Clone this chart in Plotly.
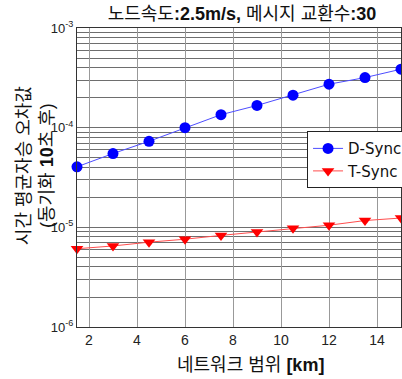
import plotly.graph_objects as go

x_km = [1.5, 3, 4.5, 6, 7.5, 9, 10.5, 12, 13.5, 15]
d_sync = [4.05e-5, 5.5e-5, 7.3e-5, 1.0e-4, 1.35e-4, 1.67e-4, 2.12e-4, 2.73e-4, 3.18e-4, 3.86e-4]
t_sync = [6.1e-6, 6.5e-6, 7.1e-6, 7.6e-6, 8.3e-6, 9.0e-6, 9.8e-6, 1.05e-5, 1.17e-5, 1.24e-5]
y_tickvals = [1e-6, 1e-5, 1e-4, 1e-3]
y_ticktext = ["10<sup>-6</sup>", "10<sup>-5</sup>", "10<sup>-4</sup>", "10<sup>-3</sup>"]
x_tickvals = [2, 4, 6, 8, 10, 12, 14]
title_text = "노드속도<b>:2.5m/s,</b> 메시지 교환수<b>:30</b>"
x_title = "네트워크 범위 <b>[km]</b>"
y_title = "시간 평균자승 오차값<br>(동기화 <b>10</b>초 후)"

FONT = "Liberation Sans, Arial, Noto Sans CJK KR, sans-serif"

fig = go.Figure()
fig.add_trace(go.Scatter(x=x_km, y=d_sync, mode="lines+markers", name="D-Sync",
                         cliponaxis=False,
                         line=dict(color="#4d4dff", width=1),
                         marker=dict(symbol="circle", size=11, color="#0000ff")))
fig.add_trace(go.Scatter(x=x_km, y=t_sync, mode="lines+markers", name="T-Sync",
                         cliponaxis=False,
                         line=dict(color="#ff4d4d", width=1),
                         marker=dict(symbol="triangle-down", size=11, color="#ff0000")))

grid = "#6e6e6e"
fig.update_layout(
    width=402, height=379,
    margin=dict(l=77, r=1, t=28, b=52, autoexpand=False),
    paper_bgcolor="white", plot_bgcolor="white",
    font=dict(family=FONT, color="#222"),
    title=dict(text=title_text, x=0.602, xanchor="center", y=0.963, yanchor="middle",
               font=dict(size=18, color="#111")),
    showlegend=True,
    legend=dict(x=0.71, y=0.655, xanchor="left", yanchor="top",
                bgcolor="white", bordercolor="#222", borderwidth=1,
                font=dict(size=15, color="#111", family="DejaVu Sans, sans-serif"),
                tracegroupgap=0, itemwidth=30),
    xaxis=dict(range=[1.5, 15], tickvals=x_tickvals, showgrid=True, automargin=False,
               gridcolor="#999", gridwidth=1, zeroline=False,
               showline=True, linecolor="#333", linewidth=1, mirror=True,
               ticks="", tickfont=dict(size=14, color="#222")),
    yaxis=dict(type="log", range=[-6, -3], tickvals=y_tickvals, ticktext=y_ticktext,
               automargin=False,
               showgrid=True, gridcolor=grid, gridwidth=1, zeroline=False,
               showline=True, linecolor="#333", linewidth=1, mirror=True,
               ticks="", tickfont=dict(size=13, color="#222"),
               minor=dict(dtick="D1", showgrid=True, gridcolor=grid, gridwidth=1, ticks="")),
    annotations=[
        dict(text=x_title, xref="paper", yref="paper", x=0.534, y=0, yshift=-38,
             xanchor="center", yanchor="middle", showarrow=False,
             font=dict(size=18, color="#111")),
        dict(text=y_title, xref="paper", yref="paper", x=0, y=0.538, xshift=-42,
             xanchor="center", yanchor="middle", showarrow=False, textangle=-90,
             font=dict(size=18, color="#111")),
    ],
)

fig.write_html("out.html", config={"displayModeBar": False},
               post_script="document.body.style.margin='0';document.body.style.overflow='hidden';")
